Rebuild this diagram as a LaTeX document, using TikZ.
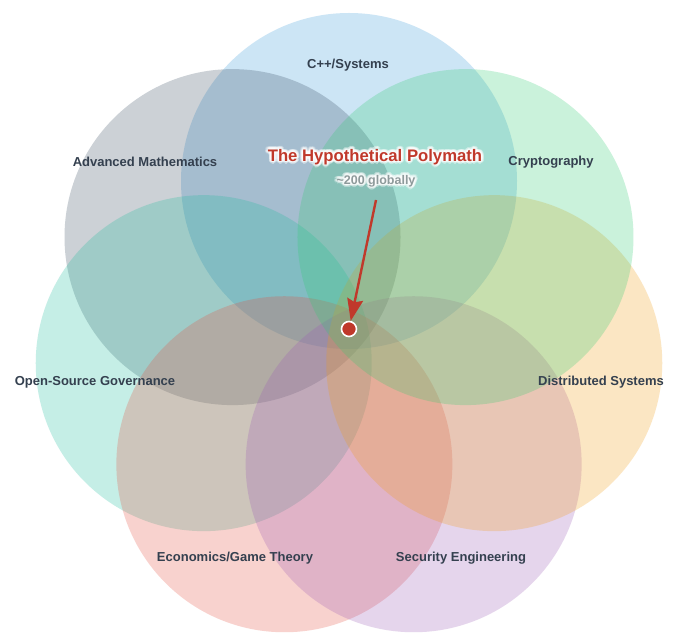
\documentclass[tikz,border=0pt]{standalone}
\usepackage{fontspec}
\setmainfont{Liberation Sans}
\usetikzlibrary{arrows.meta,calc}
\definecolor{cblue}{HTML}{3498DB}
\definecolor{cgray}{HTML}{34495E}
\definecolor{cteal}{HTML}{1ABC9C}
\definecolor{cred}{HTML}{E74C3C}
\definecolor{cpurple}{HTML}{9B59B6}
\definecolor{corange}{HTML}{F39C12}
\definecolor{cgreen}{HTML}{2ECC71}
\definecolor{labelc}{HTML}{34404F}
\definecolor{titlec}{HTML}{C0392B}
\definecolor{subc}{HTML}{8E9A9B}
\tikzset{
  venn/.style={circle, minimum size=336pt, inner sep=0pt, draw=none, fill opacity=0.25},
  setlabel/.style={font=\bfseries\fontsize{13}{15}\selectfont, text=labelc},
  titlestyle/.style={font=\bfseries\fontsize{16.7}{19}\selectfont, text=titlec},
  substyle/.style={font=\bfseries\fontsize{12.5}{15}\selectfont, text=subc},
  glow/.style={text=white, text opacity=0.35},
  pointer/.style={draw=titlec, line width=2.4pt, -{Stealth[length=22pt,width=16pt,inset=3pt]}},
  dotstyle/.style={circle, fill=titlec, draw=white, line width=1.6pt, minimum size=15pt, inner sep=0pt}
}
\newcommand{\glowtext}[4]{% name, position, style, text
  \foreach \ang in {0,30,...,330}{
    \node[#3, glow] at ($(#2)+(\ang:1.6pt)$) {#4};
    \node[#3, glow] at ($(#2)+(\ang:2.8pt)$) {#4};
  }
  \node[#3] (#1) at (#2) {#4};
}
\begin{document}
\begin{tikzpicture}[x=1pt,y=1pt]
\useasboundingbox[fill=white] (0,0) rectangle (680,643);
\coordinate (ctr) at (349,313);
\node[venn, fill=cblue]   (cpp)  at ($(ctr)+(90:149)$) {};
\node[venn, fill=cgray]   (math) at ($(ctr)+(90+360/7:149)$) {};
\node[venn, fill=cteal]   (oss)  at ($(ctr)+(90+720/7:149)$) {};
\node[venn, fill=cred]    (econ) at ($(ctr)+(90+1080/7:149)$) {};
\node[venn, fill=cpurple] (sec)  at ($(ctr)+(90+1440/7:149)$) {};
\node[venn, fill=corange] (dist) at ($(ctr)+(90+1800/7:149)$) {};
\node[venn, fill=cgreen]  (cry)  at ($(ctr)+(90+2160/7:149)$) {};

\node[setlabel] (lcpp)  at (348,578) {C++/Systems};
\node[setlabel] (lmath) at (145,481) {Advanced Mathematics};
\node[setlabel] (lcry)  at (551,481) {Cryptography};
\node[setlabel] (loss)  at (95,261)  {Open-Source Governance};
\node[setlabel] (ldist) at (601,261) {Distributed Systems};
\node[setlabel] (lecon) at (235,85)  {Economics/Game Theory};
\node[setlabel] (lsec)  at (461,85)  {Security Engineering};

\coordinate (tpos) at (375,486);
\coordinate (spos) at (376,462);
\glowtext{title}{tpos}{titlestyle}{The Hypothetical Polymath}
\glowtext{sub}{spos}{substyle}{\textasciitilde200 globally}

\node[dotstyle] (dot) at (349,314) {};
\coordinate (astart) at (376,443);
\draw[pointer] (astart) -- (dot);
\end{tikzpicture}
\end{document}
